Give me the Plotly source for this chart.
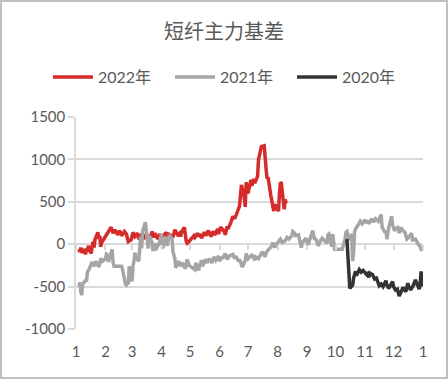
import plotly.graph_objects as go

# ---------------- data ----------------
dates_2022 = ["01-04","01-05","01-06","01-07","01-10","01-11","01-12","01-13","01-14","01-17",
              "01-18","01-19","01-20","01-21","01-24","01-25","01-26","01-27","01-28",
              "02-07","02-09","02-11","02-14","02-16","02-18","02-21","02-23","02-24","02-25","02-28",
              "03-02","03-04","03-07","03-08","03-11","03-14","03-16","03-18","03-21","03-22",
              "03-24","03-25","03-28","03-30","04-01","04-06","04-07","04-08","04-11","04-12",
              "04-13","04-15","04-18","04-20","04-21","04-22","04-25","04-27","04-28","04-29",
              "05-05","05-06","05-09","05-10","05-12","05-13","05-16","05-18","05-20","05-23",
              "05-25","05-27","05-30","05-31","06-02","06-06","06-07","06-09","06-10","06-13",
              "06-15","06-17","06-20","06-22","06-24","06-27","06-28","06-29","07-01","07-04",
              "07-05","07-07","07-08","07-11","07-12","07-14","07-15","07-18","07-19","07-20",
              "07-21","07-22","07-25","07-27","07-28","07-29","08-01","08-02","08-03","08-04",
              "08-05","08-08","08-09","08-10"]
values_2022 = [-60,-90,-40,-100,-60,-120,-50,-90,-20,-110,
               -30,30,-40,60,140,60,100,-30,20,
               200,130,170,110,160,100,150,120,40,30,50,
               140,90,130,60,110,80,120,70,110,150,
               80,130,60,120,80,140,90,130,70,120,
               80,170,110,130,90,140,200,30,10,20,
               100,80,130,90,120,70,140,100,160,90,
               150,110,180,120,200,150,110,210,180,260,
               330,300,400,450,700,550,440,730,600,760,
               690,770,720,800,1000,1080,1150,1160,950,880,
               770,790,570,450,390,470,400,390,600,730,
               720,410,530,480]

dates_2021 = ["01-04","01-05","01-06","01-07","01-08","01-11","01-12","01-13","01-15","01-18",
              "01-19","01-20","01-22","01-25","01-26","01-27","01-29","02-01","02-02","02-03",
              "02-04","02-08","02-09","02-10","02-18","02-19","02-22","02-23","02-24","02-25",
              "02-26","03-01","03-02","03-03","03-04","03-05","03-08","03-09","03-10","03-11",
              "03-12","03-15","03-16","03-18","03-19","03-22","03-23","03-25","03-26","03-30",
              "04-01","04-02","04-06","04-07","04-09","04-12","04-13","04-15","04-16","04-19",
              "04-21","04-23","04-26","04-28","04-30","05-06","05-07","05-10","05-11","05-12",
              "05-13","05-14","05-17","05-19","05-21","05-24","05-26","05-28","05-31","06-01",
              "06-03","06-04","06-07","06-09","06-11","06-15","06-17","06-18","06-21","06-22",
              "06-24","06-25","06-28","06-29","07-01","07-05","07-06","07-08","07-09","07-12",
              "07-14","07-16","07-19","07-20","07-22","07-26","07-27","07-29","07-30","08-02",
              "08-04","08-06","08-09","08-11","08-13","08-16","08-17","08-19","08-20","08-23",
              "08-25","08-26","08-27","08-31","09-02","09-03","09-06","09-07","09-09","09-10",
              "09-13","09-15","09-17","09-22","09-23","09-24","09-27","09-28","09-29","09-30",
              "10-08","10-11","10-12","10-13","10-15","10-18","10-19","10-20","10-21","10-22",
              "10-25","10-27","10-29","11-01","11-02","11-04","11-05","11-08","11-10","11-12",
              "11-15","11-17","11-18","11-19","11-22","11-23","11-24","11-26","11-29","11-30",
              "12-02","12-06","12-07","12-09","12-10","12-13","12-15","12-17","12-20","12-21",
              "12-24","12-27","12-29","12-31"]
values_2021 = [-500,-450,-560,-600,-470,-430,-440,-330,-290,-210,
               -240,-260,-200,-270,-230,-170,-200,-170,-120,-130,
               -210,-60,-220,-260,-260,-300,-470,-480,-460,-470,
               -260,-440,-250,-200,-100,-160,-200,-20,90,-50,
               150,260,180,-50,100,20,-80,10,-70,30,
               120,-50,80,-20,110,60,-90,-170,-280,-200,
               -260,-220,-290,-180,-250,-300,-220,-310,-250,-230,
               -190,-260,-180,-220,-170,-220,-150,-190,-140,-200,
               -150,-170,-110,-180,-140,-120,-170,-140,-200,-180,
               -230,-270,-190,-110,-170,-130,-140,-190,-150,-170,
               -130,-90,-150,-100,-70,-20,20,-40,-10,40,
               60,20,40,80,60,100,150,130,100,110,
               20,-40,20,70,-10,30,120,160,50,70,
               -20,40,70,10,110,120,-30,120,30,-60,
               -60,60,140,150,50,120,-200,-100,140,180,
               230,270,240,290,250,280,240,300,260,300,
               270,320,350,200,140,160,60,200,330,230,
               160,210,130,200,170,140,60,80,130,50,
               60,0,-30,-80]

dates_2020 = ["10-13","10-14","10-15","10-16","10-19","10-20","10-22","10-23","10-26","10-28",
              "10-30","11-02","11-03","11-05","11-06","11-09","11-11","11-13","11-16","11-18",
              "11-20","11-23","11-24","11-26","11-30","12-01","12-03","12-05","12-07","12-09",
              "12-11","12-14","12-16","12-17","12-19","12-22","12-24","12-28","12-29","12-30",
              "12-31"]
values_2020 = [60,-150,-420,-520,-480,-400,-320,-370,-300,-330,
               -310,-350,-330,-390,-340,-360,-410,-400,-490,-470,
               -500,-430,-480,-520,-440,-500,-540,-530,-610,-570,
               -510,-560,-460,-500,-540,-480,-420,-530,-470,-320,
               -500]

series_names = ["2022年", "2021年", "2020年"]
series_colors = ["#d62b2b", "#a5a5a5", "#333333"]
y_ticks = [-1000, -500, 0, 500, 1000, 1500]
y_tick_labels = ["-1000", "-500", "0", "500", "1000", "1500"]
title_text = "短纤主力基差"

# ---------------- figure ----------------
W, H = 448, 379
ML, MR, MT, MB = 76, 25, 117, 50
BASE_FONT = "Lato, 'Noto Sans CJK SC', sans-serif"
TEXT_COLOR = "#595959"
GRID = "#d9d9d9"
LEGEND_X0, LEGEND_STEP, LEGEND_Y = 48, 122, 77

def to_x(md):
    return ["2022-" + d for d in md]

fig = go.Figure()
all_series = [(dates_2022, values_2022), (dates_2021, values_2021), (dates_2020, values_2020)]
legend_ids = ["legend", "legend2", "legend3"]
for i, ((d, v), name, col) in enumerate(zip(all_series, series_names, series_colors)):
    fig.add_trace(go.Scatter(
        x=to_x(d), y=v, mode="lines", name=name,
        line=dict(color=col, width=3.5),
        xaxis="x2" if i == 2 else "x",
        legend=legend_ids[i],
    ))

legend_layout = {}
for i, lid in enumerate(legend_ids):
    legend_layout[lid] = dict(
        orientation="h", x=(LEGEND_X0 + i * LEGEND_STEP) / W, xref="container",
        xanchor="left", y=1 - LEGEND_Y / H, yref="container", yanchor="middle",
        font=dict(size=16, color=TEXT_COLOR), itemwidth=40,
        bgcolor="rgba(0,0,0,0)")

pw, ph = W - ML - MR, H - MT - MB
xrange = ["2022-01-01", "2023-01-01"]
fig.update_layout(
    width=W, height=H,
    margin=dict(l=ML, r=MR, t=MT, b=MB, autoexpand=False),
    paper_bgcolor="white", plot_bgcolor="white",
    font=dict(family=BASE_FONT, color=TEXT_COLOR, size=15),
    title=dict(text=title_text, x=0.5, xanchor="center", xref="container",
               y=1 - 32 / H, yref="container", yanchor="middle",
               font=dict(family="'Noto Sans CJK SC', sans-serif", size=20, color=TEXT_COLOR)),
    showlegend=True,
    xaxis=dict(type="date", range=xrange, dtick="M1", tick0="2022-01-01",
               tickformat="%-m", showgrid=False, zeroline=False, showline=False,
               ticks="", ticklabelstandoff=12, tickfont=dict(size=15, color=TEXT_COLOR)),
    xaxis2=dict(type="date", range=xrange, dtick="M1", tick0="2022-01-01",
                overlaying="x", anchor="free", position=0.4, side="bottom",
                showticklabels=False, showgrid=False, zeroline=False, showline=False,
                ticks="outside", ticklen=5, tickcolor=GRID, tickwidth=1.5),
    yaxis=dict(range=[-1000, 1500], tickvals=y_ticks, ticktext=y_tick_labels,
               showgrid=True, gridcolor=GRID,
               gridwidth=1.5, zeroline=False, showline=True, linecolor=GRID, linewidth=1.5,
               ticks="outside", ticklen=6, tickcolor=GRID, tickwidth=1.5,
               tickfont=dict(size=15, color=TEXT_COLOR)),
    **legend_layout,
)

# outer border of the picture (paper coords computed from pixel edges)
fig.add_shape(type="rect", xref="paper", yref="paper",
              x0=(1 - ML) / pw, x1=(W - 1 - ML) / pw,
              y0=(1 - MB) / ph, y1=(H - MB - 1) / ph,
              line=dict(color="#bfbfbf", width=2), layer="above")

fig.write_html("out.html", post_script="document.body.style.margin='0';",
               config={"displayModeBar": False})
